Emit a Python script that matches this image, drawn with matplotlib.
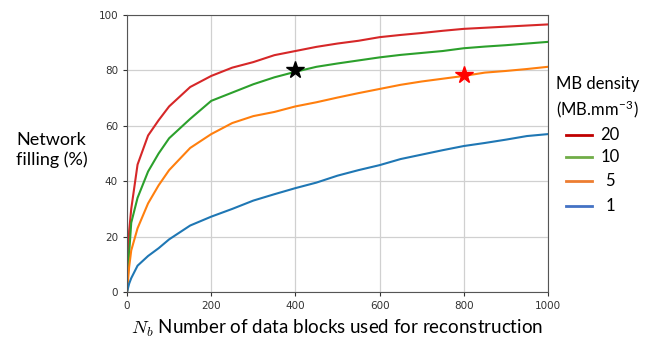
import matplotlib.pyplot as plt
from matplotlib.lines import Line2D

# data
n_blocks = [0, 5, 10, 25, 50, 75, 100, 150, 200, 250, 300, 350, 400, 450, 500,
            550, 600, 650, 700, 750, 800, 850, 900, 950, 1000]
fill_20 = [0, 22, 30, 46, 56.5, 62, 67, 74, 78, 81, 83, 85.5, 87, 88.5, 89.7,
           90.7, 92, 92.8, 93.5, 94.3, 95, 95.4, 95.8, 96.2, 96.6]
fill_10 = [0, 14, 25, 34, 43.5, 50, 55.5, 62.5, 69, 72, 75, 77.5, 79.5, 81.3, 82.5,
           83.6, 84.7, 85.6, 86.3, 87, 88, 88.6, 89.1, 89.7, 90.3]
fill_5 = [0, 9, 15, 23, 32, 38.5, 44, 52, 57, 61, 63.5, 65, 67, 68.5, 70.2,
          71.8, 73.3, 74.8, 76, 77, 78, 79.2, 79.8, 80.5, 81.3]
fill_1 = [0, 3, 5, 9.5, 13, 15.8, 19, 24, 27.2, 30, 33, 35.3, 37.5, 39.5, 42,
          44, 45.8, 48, 49.6, 51.2, 52.7, 53.8, 55, 56.3, 57]
densities = ['20', '10', '5', '1']
black_star = (400, 80)
red_star = (800, 78.5)

line_colors = ['#d62728', '#2ca02c', '#ff7f0e', '#1f77b4']
legend_colors = ['#c00000', '#70ad47', '#ed7d31', '#4472c4']

plt.rcParams['mathtext.fontset'] = 'cm'

fig = plt.figure(figsize=(6.63, 3.41), dpi=100)
ax = fig.add_axes([0.1916, 0.1437, 0.6349, 0.8123])

for ys, c in zip([fill_20, fill_10, fill_5, fill_1], line_colors):
    ax.plot(n_blocks, ys, color=c, lw=1.5)

ax.plot(*black_star, marker='*', color='black', markersize=13, zorder=5)
ax.plot(*red_star, marker='*', color='red', markersize=13, zorder=5)

ax.set_xlim(0, 1000)
ax.set_ylim(0, 100)
ax.set_xticks(range(0, 1001, 200))
ax.set_yticks(range(0, 101, 20))
ax.grid(True, color='#d0d0d0', lw=0.9)
ax.set_axisbelow(True)
ax.tick_params(labelsize=7.5, colors='#333333', length=3)
for s in ax.spines.values():
    s.set_color('#555555')

font = 'Lato'
ax.set_xlabel(r'$N_b$ Number of data blocks used for reconstruction',
              fontsize=13.5, family=font, labelpad=5)
fig.text(0.078, 0.56, 'Network\nfilling (%)', ha='center', va='center',
         fontsize=13, family=font, linespacing=1.3)

# legend built by hand
fig.text(0.838, 0.755, 'MB density', fontsize=12, family=font, va='center')
fig.text(0.838, 0.68, r'(MB.mm$^{\mathregular{-3}}$)', fontsize=12, family=font, va='center')
ys_leg = [0.605, 0.54, 0.468, 0.395]
for lab, c, yy in zip(densities, legend_colors, ys_leg):
    fig.add_artist(Line2D([0.853, 0.893], [yy, yy], color=c, lw=2,
                          transform=fig.transFigure))
    fig.text(0.92, yy, lab, fontsize=12, family=font, ha='center', va='center')

fig.savefig('out.png', dpi=100)
